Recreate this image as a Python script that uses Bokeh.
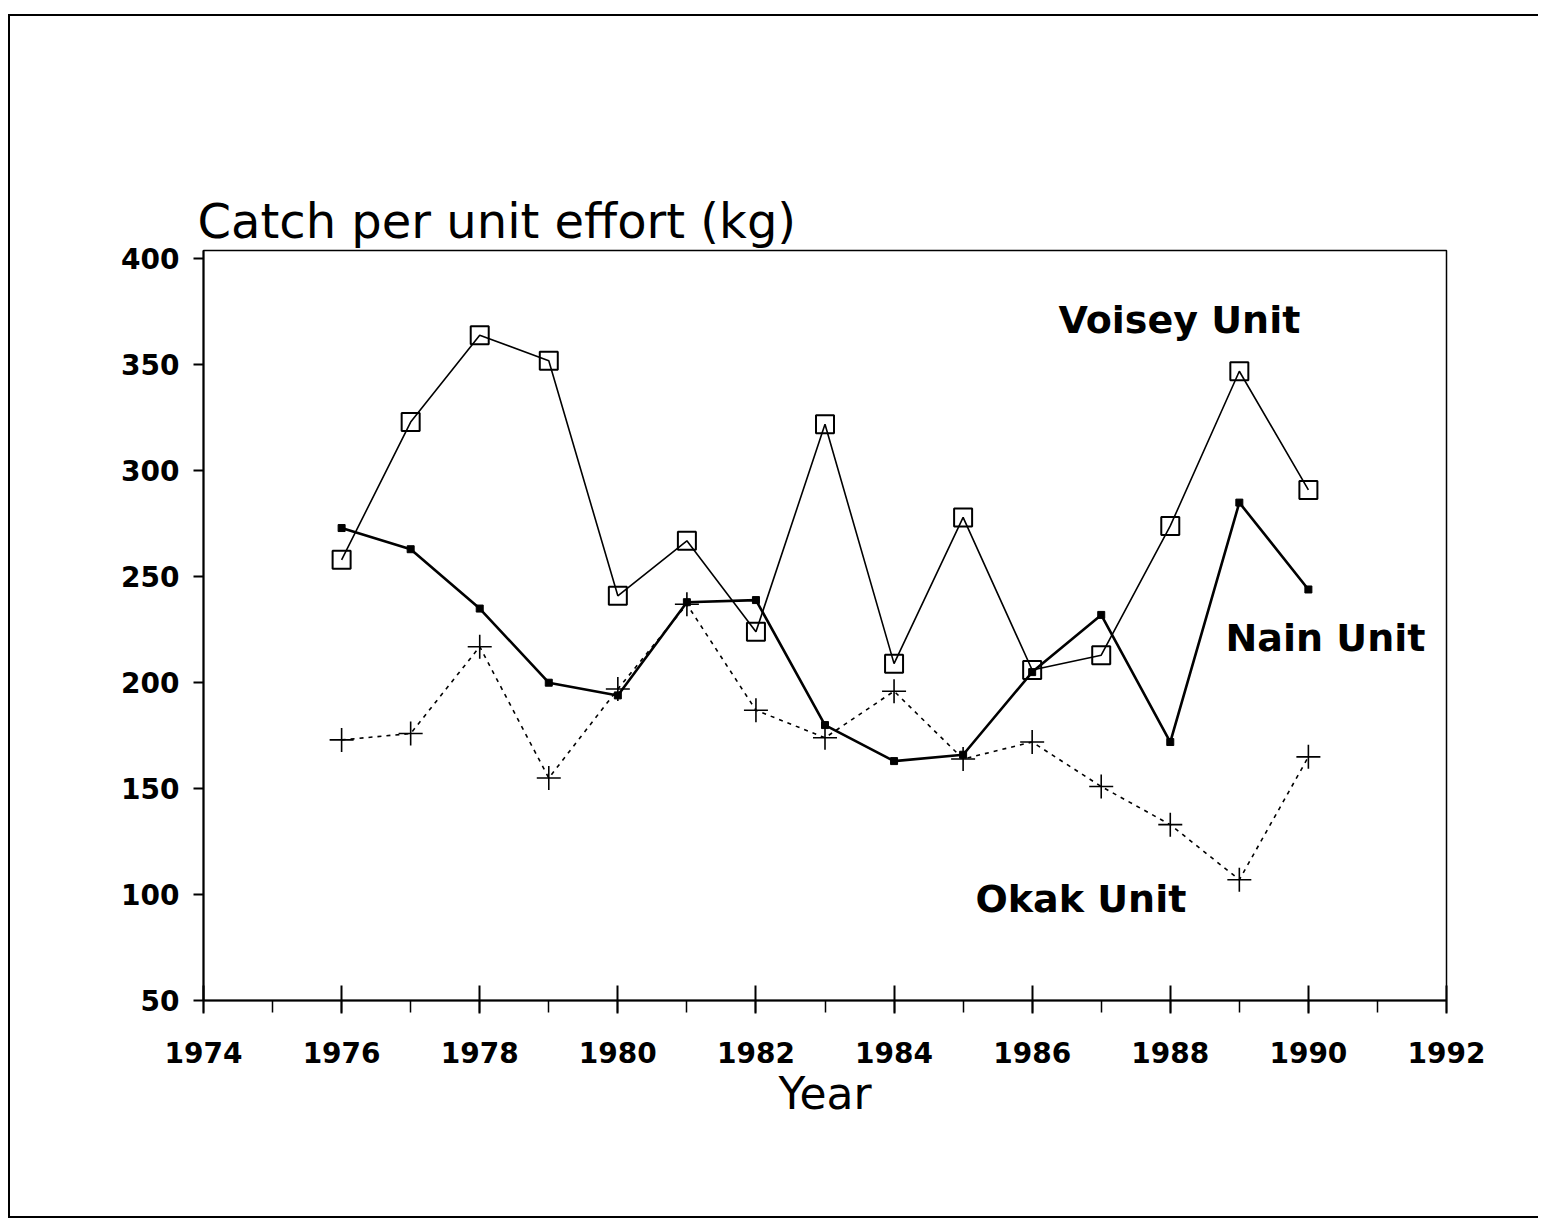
from bokeh.plotting import figure
from bokeh.models import FixedTicker, Label, ColumnDataSource
from bokeh.embed import file_html
from bokeh.resources import INLINE

years = [1976, 1977, 1978, 1979, 1980, 1981, 1982, 1983, 1984, 1985, 1986, 1987, 1988, 1989, 1990]
voisey = [258, 323, 364, 352, 241, 267, 224, 322, 209, 278, 206, 213, 274, 347, 291]
nain = [273, 263, 235, 200, 194, 238, 239, 180, 163, 166, 205, 232, 172, 285, 244]
okak = [173, 176, 217, 155, 197, 237, 187, 174, 196, 164, 172, 151, 133, 107, 165]

x_major = [1974, 1976, 1978, 1980, 1982, 1984, 1986, 1988, 1990, 1992]
x_minor = list(range(1974, 1993))
y_ticks = [50, 100, 150, 200, 250, 300, 350, 400]

title_text = "Catch per unit effort (kg)"
x_label = "Year"
series_labels = ["Voisey Unit", "Nain Unit", "Okak Unit"]

FONT = "DejaVu Sans"

p = figure(width=1530, height=1204, output_backend="svg", toolbar_location=None,
           x_range=(1974, 1992), y_range=(50, 404),
           min_border_left=193, min_border_right=94, min_border_top=234, min_border_bottom=220,
           title=title_text)
p.styles = {"margin-left": "8px", "margin-top": "14px",
            "border-left": "2px solid black", "border-top": "2px solid black",
            "border-bottom": "2px solid black"}

p.title.text_font = FONT
p.title.text_font_size = "48px"
p.title.text_font_style = "normal"
p.title.text_color = "black"
p.title.align = "left"
p.title.standoff = 4
p.title.offset = -6

p.grid.visible = False
p.outline_line_color = "black"
p.outline_line_width = 1.5
p.background_fill_color = "white"
p.border_fill_color = "white"

# x axis
xa = p.xaxis[0]
xa.ticker = FixedTicker(ticks=x_major, minor_ticks=x_minor)
xa.axis_line_width = 2
xa.major_tick_line_width = 2
xa.minor_tick_line_width = 1.5
xa.major_tick_in = 15
xa.major_tick_out = 13
xa.minor_tick_in = 0
xa.minor_tick_out = 12
xa.major_label_standoff = 28
xa.major_label_text_font = FONT
xa.major_label_text_font_style = "bold"
xa.major_label_text_font_size = "28px"
xa.major_label_text_color = "black"
xa.axis_label = x_label
xa.axis_label_text_font = FONT
xa.axis_label_text_font_style = "normal"
xa.axis_label_text_font_size = "44px"
xa.axis_label_text_color = "black"
xa.axis_label_standoff = 2

# y axis
ya = p.yaxis[0]
ya.ticker = FixedTicker(ticks=y_ticks)
ya.axis_line_width = 2
ya.major_tick_line_width = 2
ya.major_tick_in = 0
ya.major_tick_out = 10
ya.minor_tick_line_color = None
ya.major_label_standoff = 14
ya.major_label_text_font = FONT
ya.major_label_text_font_style = "bold"
ya.major_label_text_font_size = "28px"
ya.major_label_text_color = "black"

src = ColumnDataSource(dict(x=years, v=voisey, n=nain, o=okak))

# Okak (dotted with plus markers)
p.line("x", "o", source=src, line_color="black", line_width=1.6, line_dash="4 5")
p.scatter("x", "o", source=src, marker="cross", size=24, line_color="black", line_width=1.6)

# Nain (thick solid, small filled squares)
p.line("x", "n", source=src, line_color="black", line_width=2.6)
p.scatter("x", "n", source=src, marker="square", size=7, fill_color="black", line_color="black")

# Voisey (thin solid, open squares)
p.line("x", "v", source=src, line_color="black", line_width=1.6)
p.scatter("x", "v", source=src, marker="square", size=18, fill_color=None,
          line_color="black", line_width=2)

label_pos = [(1986.38, 371), (1988.80, 221), (1985.18, 98)]
for txt, (lx, ly) in zip(series_labels, label_pos):
    p.add_layout(Label(x=lx, y=ly, text=txt, text_font=FONT, text_font_style="bold",
                       text_font_size="38px", text_baseline="middle", text_align="left",
                       text_color="black"))

open("out.html", "w").write(file_html(p, INLINE))
